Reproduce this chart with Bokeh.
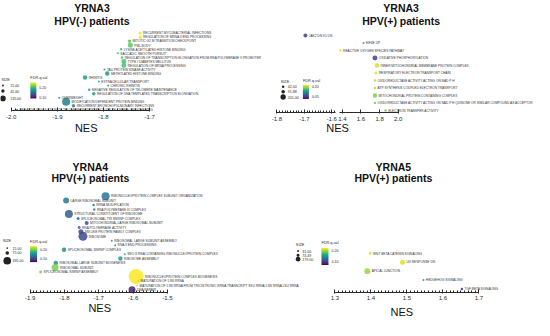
import numpy as np
from bokeh.plotting import figure
from bokeh.models import (Range1d, LinearAxis, SingleIntervalTicker, FixedTicker,
                          LinearColorMapper, ColorBar, ColumnDataSource, PrintfTickFormatter)
from bokeh.palettes import Viridis256
from bokeh.transform import transform
from bokeh.core.properties import value
from bokeh.embed import file_html
from bokeh.resources import INLINE

# ---------------- data ----------------
# Panel 1: YRNA3, HPV(-) patients
terms1 = ["RECURRENT MYCOBACTERIAL INFECTIONS", "REGULATION OF MRNA 3 END PROCESSING",
          "MITOTIC G2 M TRANSITION CHECKPOINT", "PML BODY", "LYSINE ACETYLATED HISTONE BINDING",
          "SACCADIC SMOOTH PURSUIT",
          "REGULATION OF TRANSCRIPTION ELONGATION FROM RNA POLYMERASE II PROMOTER",
          "TYPE I DIABETES MELLITUS", "REGULATION OF MRNA PROCESSING", "TAU PROTEIN KINASE ACTIVITY",
          "METHYLATED HISTONE BINDING", "RHINITIS", "EXTRACELLULAR TRANSPORT", "CHRONIC RHINITIS",
          "NEGATIVE REGULATION OF TELOMERE MAINTENANCE",
          "REGULATION OF DNA TEMPLATED TRANSCRIPTION ELONGATION", "OVERWEIGHT",
          "MODIFICATION DEPENDENT PROTEIN BINDING", "RECURRENT BRONCHOPULMONARY INFECTIONS",
          "NEGATIVE REGULATION OF TELOMERE MAINTENANCE VIA TELOMERE LENGTHENING"]
nes1 = [-1.721, -1.721, -1.744, -1.742, -1.762, -1.769, -1.760, -1.756, -1.756, -1.798,
        -1.792, -1.840, -1.810, -1.790, -1.831, -1.821, -1.896, -1.881, -1.865, -1.987]
fdr1 = [0.250, 0.247, 0.210, 0.210, 0.202, 0.194, 0.202, 0.205, 0.205, 0.177,
        0.177, 0.177, 0.190, 0.190, 0.177, 0.177, 0.169, 0.158, 0.161, 0.165]
size1 = [37, 37, 51, 104, 26, 17, 26, 104, 104, 17, 84, 84, 17, 17, 26, 51, 17, 267, 51, 17]
size_breaks1 = [15, 45, 135]
size_labels1 = ["15.00", "45.00", "135.00"]
fdr_ticks1 = [0.10, 0.15, 0.20]
fdr_range1 = (0.086, 0.252)

# Panel 2: YRNA3, HPV(+) patients
terms2 = ["JAK2 DN.V1 DN", "EIF4E UP", "REACTIVE OXYGEN SPECIES PATHWAY", "OXIDATIVE PHOSPHORYLATION",
          "INNER MITOCHONDRIAL MEMBRANE PROTEIN COMPLEX", "RESPIRATORY ELECTRON TRANSPORT CHAIN",
          "OXIDOREDUCTASE ACTIVITY ACTING ON NAD P H", "ATP SYNTHESIS COUPLED ELECTRON TRANSPORT",
          "MITOCHONDRIAL PROTEIN CONTAINING COMPLEX",
          "OXIDOREDUCTASE ACTIVITY ACTING ON NAD P H QUINONE OR SIMILAR COMPOUND AS ACCEPTOR",
          "ELECTRON TRANSFER ACTIVITY"]
nes2 = [-1.696, 1.627, 1.380, 1.750, 1.771, 1.760, 1.750, 1.750, 1.750, 1.750, 1.864]
fdr2 = [0.057, 0.117, 0.211, 0.057, 0.207, 0.207, 0.197, 0.193, 0.177, 0.173, 0.173]
size2 = [114, 28, 42, 178, 144, 64, 44, 44, 144, 42, 44]
size_breaks2 = [42, 91.88, 201]
size_labels2 = ["42.00", "91.88", "201.00"]
fdr_ticks2 = [0.05, 0.10, 0.15, 0.20]
fdr_range2 = (0.017, 0.218)

# Panel 3: YRNA4, HPV(+) patients
terms3 = ["RIBONUCLEOPROTEIN COMPLEX SUBUNIT ORGANIZATION", "LARGE RIBOSOMAL SUBUNIT",
          "RRNA MODIFICATION", "RNA POLYMERASE III COMPLEX", "STRUCTURAL CONSTITUENT OF RIBOSOME",
          "SPLICEOSOMAL TRI SNRNP COMPLEX", "MITOCHONDRIAL LARGE RIBOSOMAL SUBUNIT",
          "RNA POLYMERASE ACTIVITY", "SM LIKE PROTEIN FAMILY COMPLEX", "RIBOSOME",
          "RIBOSOMAL LARGE SUBUNIT ASSEMBLY", "RNA 3 END PROCESSING", "SPLICEOSOMAL SNRNP COMPLEX",
          "SNO S RNA CONTAINING RIBONUCLEOPROTEIN COMPLEX", "RIBOSOME ASSEMBLY",
          "RIBOSOMAL LARGE SUBUNIT BIOGENESIS", "RIBOSOMAL SUBUNIT", "SPLICEOSOMAL SNRNP ASSEMBLY",
          "RIBONUCLEOPROTEIN COMPLEX BIOGENESIS", "MATURATION OF 5 8S RRNA",
          "MATURATION OF 5 8S RRNA FROM TRICISTRONIC RRNA TRANSCRIPT SSU RRNA 5 8S RRNA LSU RRNA",
          "DNA REPAIR"]
nes3 = [-1.680, -1.795, -1.715, -1.713, -1.787, -1.760, -1.735, -1.757, -1.752, -1.746,
        -1.662, -1.652, -1.801, -1.624, -1.637, -1.825, -1.827, -1.869, -1.591, -1.585,
        -1.588, -1.603]
fdr3 = [0.132, 0.135, 0.135, 0.135, 0.115, 0.120, 0.106, 0.115, 0.101, 0.101,
        0.149, 0.149, 0.149, 0.166, 0.158, 0.149, 0.200, 0.200, 0.235, 0.218, 0.218, 0.080]
size3 = [363, 204, 35, 35, 363, 51, 91, 51, 142, 459, 23, 23, 115, 23, 115, 115, 278, 51,
         1275, 23, 23, 278]
size_breaks3 = [15, 75, 335]
size_labels3 = ["15.00", "75.00", "335.00"]
fdr_ticks3 = [0.10, 0.15, 0.20]
fdr_range3 = (0.063, 0.235)

# Panel 4: YRNA5, HPV(+) patients
terms4 = ["WNT BETA CATENIN SIGNALING", "UV RESPONSE DN", "APICAL JUNCTION",
          "HEDGEHOG SIGNALING", "TGF BETA SIGNALING"]
nes4 = [1.398, 1.488, 1.390, 1.546, 1.653]
fdr4 = [0.219, 0.219, 0.203, 0.149, 0.094]
size4 = [73, 204, 294, 33, 51]
size_breaks4 = [31, 74.49, 179]
size_labels4 = ["31.00", "74.49", "179.00"]
fdr_ticks4 = [0.10, 0.15, 0.20]
fdr_range4 = (0.070, 0.227)

# ---------------- layout helpers ----------------
W, H = 534, 320
FONT = "Liberation Sans"
INK = "#2b2b2b"


def SX(X):
    return (X - 5) * 0.963


def SY(Y):
    return (Y - 4) * 0.97


p = figure(width=W, height=H, output_backend="svg", toolbar_location=None,
           x_range=Range1d(0, W), y_range=Range1d(H, 0),
           x_axis_location=None, y_axis_location=None, min_border=0)
p.outline_line_color = None
p.background_fill_color = "white"
p.xgrid.visible = False
p.ygrid.visible = False


def make_xrange(v0, X0, v1, X1):
    c0, c1 = SX(X0), SX(X1)
    s = (c1 - c0) / (v1 - v0)
    start = v0 - c0 / s
    return Range1d(start, start + W / s)


def make_yrange(i0, Y0, i1, Y1):
    c0, c1 = SY(Y0), SY(Y1)
    s = (c1 - c0) / (i1 - i0)
    end = i0 - c0 / s
    start = end + H / s
    return Range1d(start, end)


def add_text(X, Y, txt, size, bold=False, align="left", color=INK):
    p.text(x=[SX(X)], y=[SY(Y)], text=[txt], text_font=value(FONT),
           text_font_size=value(size), text_font_style="bold" if bold else "normal",
           text_align=align, text_baseline="middle", text_color=color)


def draw_points(n, terms, nes, fdr, size, k, yanch, segments, mapper):
    nes = np.asarray(nes, float)
    idx = np.arange(len(terms))
    d = k * np.sqrt(np.asarray(size, float))
    yname = f"y{n}"
    p.extra_y_ranges[yname] = make_yrange(0, yanch[0], len(terms) - 1, yanch[1])
    for name, anchors, sel in segments:
        p.extra_x_ranges[name] = make_xrange(*anchors)
        m = sel(nes)
        src = ColumnDataSource(dict(term=[t for t, mm in zip(terms, m) if mm],
                                    nes=nes[m], fdr=np.asarray(fdr)[m], idx=idx[m],
                                    d=d[m], off=d[m] / 2 + 1.4))
        p.scatter("nes", "idx", size="d", source=src, x_range_name=name, y_range_name=yname,
                  fill_color=transform("fdr", mapper), line_color=None, fill_alpha=0.85)
        p.text("nes", "idx", text="term", x_offset="off", source=src, x_range_name=name,
               y_range_name=yname, text_font=value(FONT), text_font_size=value("3.2px"),
               text_baseline="middle", text_align="left", text_color="#333333")


def add_axis(name, bounds, interval, nminor, Yline):
    ax = LinearAxis(x_range_name=name, fixed_location=SY(Yline), bounds=bounds,
                    ticker=SingleIntervalTicker(interval=interval, num_minor_ticks=nminor),
                    formatter=PrintfTickFormatter(format="%.1f"))
    ax.axis_line_color = INK
    ax.axis_line_width = 1.2
    ax.major_tick_line_color = INK
    ax.major_tick_in = 3
    ax.major_tick_out = 1
    ax.minor_tick_line_color = INK
    ax.minor_tick_in = 2
    ax.minor_tick_out = 0
    ax.major_label_text_font = FONT
    ax.major_label_text_font_size = "6px"
    ax.major_label_text_color = INK
    ax.major_label_standoff = 3
    p.add_layout(ax, "below")


def size_legend(k, breaks, labels, Xt, Yt, Xd, Yds, Xl):
    add_text(Xt, Yt, "SIZE", "3.8px")
    dd = k * np.sqrt(np.asarray(breaks, float))
    p.scatter(x=[SX(Xd)] * len(breaks), y=[SY(y) for y in Yds], size=dd,
              fill_color="#222222", line_color=None)
    for lab, y in zip(labels, Yds):
        add_text(Xl, y, lab, "3.6px")


def color_legend(mapper, ticks, Xl, Xr, Yt, Yb):
    add_text(Xl, Yt - 4.5, "FDR q-val", "3.8px")
    cb = ColorBar(color_mapper=mapper, orientation="vertical",
                  width=max(1, int(round(SX(Xr) - SX(Xl)))),
                  height=int(round(SY(Yb) - SY(Yt))),
                  location=(SX(Xl), H - SY(Yb)), padding=0,
                  ticker=FixedTicker(ticks=ticks),
                  formatter=PrintfTickFormatter(format="%.2f"),
                  major_label_text_font=FONT, major_label_text_font_size="3.6px",
                  major_label_text_color=INK, label_standoff=3,
                  major_tick_line_color=None, bar_line_color=None,
                  border_line_color=None, background_fill_alpha=0)
    p.add_layout(cb)


def mapper_for(rng):
    return LinearColorMapper(palette=Viridis256, low=rng[0], high=rng[1])


# ---------------- Panel 1 ----------------
m1 = mapper_for(fdr_range1)
draw_points(1, terms1, nes1, fdr1, size1, 0.49, (37.7, 116.7),
            [("x1", (-2.0, 16, -1.7, 160), lambda v: v < 10)], m1)
add_axis("x1", (-2.0001, -1.6999), 0.1, 10, 117.5)
add_text(100, 11.5, "YRNA3", "10.5px", bold=True, align="center", color="#111111")
add_text(100, 25, "HPV(-) patients", "10.5px", bold=True, align="center", color="#111111")
add_text(94, 135, "NES", "11px", align="center", color="#111111")
size_legend(0.49, size_breaks1, size_labels1, 6, 86, 7.5, [91.7, 97.3, 105], 15)
color_legend(m1, fdr_ticks1, 36, 42.7, 88.3, 105)

# ---------------- Panel 2 (broken axis) ----------------
m2 = mapper_for(fdr_range2)
draw_points(2, terms2, nes2, fdr2, size2, 0.375, (40, 117.3),
            [("x2a", (-1.8, 292, -1.6, 349), lambda v: v < 0),
             ("x2b", (1.4, 360, 2.0, 418), lambda v: v > 0)], m2)
add_axis("x2a", (-1.8001, -1.585), 0.1, 10, 119.5)
add_axis("x2b", (1.37, 2.0001), 0.2, 0, 119.5)
add_text(421, 11.5, "YRNA3", "10.5px", bold=True, align="center", color="#111111")
add_text(421, 25, "HPV(+) patients", "10.5px", bold=True, align="center", color="#111111")
add_text(355, 135, "NES", "11px", align="center", color="#111111")
size_legend(0.375, size_breaks2, size_labels2, 296, 88, 298.5, [93, 98, 103.5], 303.3)
color_legend(m2, fdr_ticks2, 319, 325.7, 91.5, 105.5)

# ---------------- Panel 3 ----------------
m3 = mapper_for(fdr_range3)
draw_points(3, terms3, nes3, fdr3, size3, 0.42, (205.7, 302.3),
            [("x3", (-1.9, 35.7, -1.5, 178.3), lambda v: v < 10)], m3)
add_axis("x3", (-1.9001, -1.4999), 0.1, 10, 304.7)
add_text(98.3, 176, "YRNA4", "10.5px", bold=True, align="center", color="#111111")
add_text(98.3, 187.5, "HPV(+) patients", "10.5px", bold=True, align="center", color="#111111")
add_text(108, 320.7, "NES", "11px", align="center", color="#111111")
size_legend(0.42, size_breaks3, size_labels3, 7.3, 252.3, 12, [259.3, 264.3, 272.3], 17.5)
color_legend(m3, fdr_ticks3, 35.7, 42.7, 257.7, 273.7)

# ---------------- Panel 4 ----------------
m4 = mapper_for(fdr_range4)
draw_points(4, terms4, nes4, fdr4, size4, 0.35, (264.7, 301.3),
            [("x4", (1.3, 352.3, 1.7, 501.7), lambda v: v > 0)], m4)
add_axis("x4", (1.2999, 1.7001), 0.1, 10, 304.7)
add_text(413, 175.5, "YRNA5", "10.5px", bold=True, align="center", color="#111111")
add_text(413, 187, "HPV(+) patients", "10.5px", bold=True, align="center", color="#111111")
add_text(421.7, 324.7, "NES", "11px", align="center", color="#111111")
size_legend(0.35, size_breaks4, size_labels4, 311.7, 256, 314, [262.3, 266.7, 270.7], 318.3)
color_legend(m4, fdr_ticks4, 338.3, 345.7, 259, 276.7)

open("out.html", "w").write(file_html(p, INLINE))
